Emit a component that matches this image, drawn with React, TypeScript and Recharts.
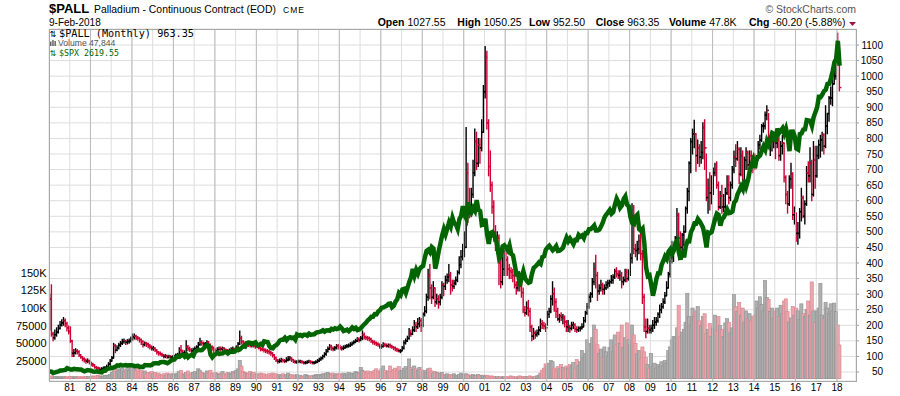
import React from 'react';
import {
  ComposedChart,
  Bar,
  Line,
  XAxis,
  YAxis,
  CartesianGrid,
  ReferenceLine,
} from 'recharts';

// Palladium continuous contract, monthly bars Jan 1980 .. Feb 2018 (one row per year)
const pallHigh = [
  300, 330, 178, 185, 192, 200, 212, 218, 225, 220, 210, 198,
  195, 152, 122, 125, 122, 118, 106, 100, 96, 92, 92, 88,
  82, 78, 74, 68, 66, 63, 64, 66, 68, 72, 80, 90,
  100, 142, 138, 134, 142, 148, 155, 156, 152, 154, 156, 162,
  172, 172, 168, 164, 160, 156, 150, 146, 145, 142, 138, 134,
  132, 128, 122, 116, 114, 110, 106, 106, 104, 104, 102, 102,
  104, 108, 110, 128, 135, 120, 118, 150, 135, 130, 125, 126,
  130, 134, 145, 158, 150, 146, 145, 150, 148, 140, 134, 130,
  124, 128, 130, 130, 130, 128, 124, 122, 124, 128, 130, 126,
  134, 145, 182, 165, 150, 146, 144, 144, 140, 140, 140, 138,
  140, 136, 130, 128, 126, 124, 122, 120, 116, 112, 106, 98,
  90, 92, 94, 92, 90, 96, 100, 100, 96, 90, 88, 86,
  88, 88, 86, 84, 84, 86, 88, 86, 84, 84, 86, 90,
  94, 98, 104, 112, 122, 130, 138, 136, 130, 132, 138, 138,
  136, 132, 134, 136, 138, 140, 144, 146, 150, 155, 160, 160,
  164, 182, 175, 166, 164, 162, 158, 152, 150, 146, 144, 140,
  138, 144, 142, 140, 140, 140, 136, 132, 130, 126, 124, 122,
  132, 150, 156, 165, 190, 185, 195, 215, 210, 222, 225, 222,
  240, 260, 300, 380, 395, 330, 340, 320, 300, 295, 300, 340,
  335, 358, 365, 395, 370, 345, 345, 355, 375, 420, 440, 460,
  500, 835, 720, 640, 640, 730, 830, 820, 800, 800, 860, 970,
  1095, 1080, 860, 760, 660, 600, 520, 500, 490, 420, 420, 440,
  440, 420, 395, 385, 380, 370, 340, 350, 345, 335, 320, 260,
  275, 280, 255, 200, 190, 182, 185, 195, 220, 215, 210, 205,
  245, 255, 295, 340, 320, 285, 255, 235, 240, 235, 230, 215,
  215, 200, 210, 210, 205, 195, 195, 195, 205, 225, 245, 270,
  300, 305, 350, 400, 425, 370, 330, 345, 335, 330, 340, 345,
  345, 360, 362, 380, 385, 375, 375, 370, 355, 380, 380, 378,
  430, 590, 585, 460, 470, 490, 500, 440, 300, 220, 220, 200,
  200, 215, 225, 225, 240, 265, 270, 285, 305, 340, 370, 420,
  470, 450, 485, 575, 560, 500, 495, 520, 580, 640, 725, 800,
  830, 858, 815, 795, 780, 790, 850, 860, 750, 670, 690, 680,
  705, 720, 725, 660, 630, 650, 620, 640, 680, 680, 660, 710,
  760, 780, 790, 770, 770, 760, 740, 770, 760, 760, 760, 745,
  750, 745, 790, 810, 845, 850, 885, 905, 880, 800, 810, 820,
  820, 830, 810, 790, 810, 785, 680, 630, 680, 720, 690, 580,
  560, 530, 575, 640, 615, 600, 710, 725, 770, 730, 790, 775,
  775, 795, 810, 820, 815, 905, 880, 935, 965, 1010, 1020, 1060,
  1138, 1090,
];

const pallLow = [
  185, 165, 150, 155, 165, 175, 188, 198, 200, 195, 182, 172,
  145, 100, 100, 108, 108, 100, 94, 86, 82, 78, 80, 76,
  70, 68, 62, 60, 58, 54, 55, 58, 60, 62, 65, 72,
  85, 95, 112, 118, 124, 132, 138, 142, 138, 140, 142, 146,
  152, 156, 154, 152, 146, 138, 130, 134, 132, 128, 124, 120,
  120, 116, 108, 104, 104, 100, 95, 96, 94, 95, 93, 94,
  95, 98, 100, 104, 108, 106, 106, 110, 118, 116, 112, 114,
  118, 122, 128, 136, 136, 134, 134, 138, 132, 125, 120, 112,
  110, 116, 120, 118, 120, 116, 114, 112, 114, 116, 120, 114,
  118, 126, 138, 140, 136, 134, 134, 132, 130, 130, 130, 126,
  128, 124, 118, 118, 114, 112, 110, 108, 104, 98, 90, 84,
  78, 80, 82, 82, 80, 82, 86, 88, 84, 80, 78, 78,
  80, 80, 78, 76, 76, 78, 80, 78, 76, 76, 78, 80,
  84, 88, 92, 98, 104, 114, 122, 120, 118, 120, 124, 124,
  122, 120, 122, 126, 128, 130, 132, 136, 140, 144, 148, 146,
  150, 154, 156, 154, 152, 150, 145, 140, 138, 135, 133, 126,
  126, 130, 132, 130, 130, 128, 126, 122, 118, 116, 114, 112,
  118, 124, 140, 148, 155, 165, 170, 180, 180, 190, 195, 180,
  195, 230, 240, 280, 285, 270, 285, 260, 268, 255, 265, 285,
  295, 315, 335, 340, 300, 310, 318, 330, 340, 365, 385, 410,
  420, 450, 530, 545, 550, 610, 680, 700, 710, 720, 760, 820,
  930, 830, 680, 630, 560, 470, 440, 430, 330, 320, 330, 360,
  360, 360, 350, 350, 340, 320, 300, 310, 310, 290, 240, 230,
  235, 230, 180, 150, 155, 158, 165, 170, 180, 190, 188, 180,
  200, 225, 240, 265, 245, 225, 215, 210, 215, 205, 195, 180,
  180, 178, 185, 190, 180, 178, 180, 182, 188, 195, 210, 235,
  255, 275, 290, 330, 320, 280, 300, 310, 300, 300, 315, 320,
  325, 335, 335, 350, 355, 350, 345, 320, 330, 340, 340, 345,
  360, 400, 430, 420, 410, 430, 410, 270, 180, 160, 175, 175,
  175, 180, 190, 200, 210, 225, 240, 255, 270, 295, 320, 355,
  400, 405, 440, 480, 410, 425, 440, 455, 500, 560, 600, 690,
  750, 770, 695, 720, 710, 720, 735, 700, 600, 560, 570, 590,
  620, 680, 640, 570, 575, 560, 565, 570, 620, 590, 600, 640,
  690, 710, 730, 655, 680, 640, 650, 700, 700, 695, 710, 690,
  700, 705, 730, 765, 790, 820, 830, 860, 775, 745, 760, 770,
  735, 770, 730, 730, 750, 660, 590, 560, 585, 640, 540, 525,
  470, 460, 480, 535, 545, 525, 585, 660, 660, 600, 615, 640,
  675, 735, 740, 760, 750, 770, 815, 855, 910, 905, 975, 990,
  1040, 952.5,
];

const pallClose = [
  285, 172, 160, 170, 178, 190, 200, 208, 215, 205, 192, 180,
  150, 110, 112, 118, 115, 105, 98, 92, 88, 85, 86, 80,
  75, 72, 65, 63, 62, 58, 60, 62, 64, 66, 75, 85,
  95, 135, 120, 128, 136, 142, 148, 150, 146, 148, 150, 156,
  163, 165, 160, 158, 154, 148, 138, 142, 140, 135, 131, 126,
  126, 120, 114, 110, 108, 104, 100, 102, 98, 100, 98, 98,
  100, 104, 106, 120, 118, 112, 112, 130, 125, 122, 118, 122,
  125, 130, 138, 145, 142, 140, 140, 145, 138, 130, 128, 122,
  118, 122, 125, 124, 126, 122, 120, 118, 118, 122, 125, 120,
  128, 140, 158, 148, 142, 140, 140, 138, 136, 136, 134, 132,
  134, 128, 124, 122, 120, 118, 116, 114, 110, 104, 96, 88,
  84, 86, 88, 86, 85, 88, 92, 94, 90, 84, 82, 82,
  84, 84, 82, 80, 80, 82, 84, 82, 80, 80, 82, 86,
  90, 95, 100, 108, 116, 124, 132, 126, 124, 128, 134, 130,
  128, 126, 128, 132, 134, 135, 138, 142, 146, 150, 156, 152,
  158, 170, 162, 160, 158, 156, 150, 146, 144, 140, 138, 132,
  132, 138, 136, 134, 136, 134, 130, 128, 124, 120, 118, 118,
  126, 144, 150, 158, 175, 172, 185, 200, 195, 205, 215, 200,
  235, 245, 290, 360, 320, 290, 320, 275, 285, 275, 290, 330,
  325, 345, 355, 360, 330, 325, 335, 345, 370, 395, 420, 440,
  450, 690, 580, 560, 620, 690, 790, 720, 780, 770, 820, 950,
  1060, 850, 710, 650, 580, 500, 470, 480, 400, 340, 380, 430,
  410, 380, 375, 370, 360, 330, 320, 335, 325, 305, 250, 240,
  255, 245, 195, 165, 175, 170, 175, 185, 205, 200, 198, 192,
  235, 245, 285, 300, 275, 245, 220, 230, 225, 225, 210, 195,
  195, 190, 200, 200, 188, 186, 190, 190, 195, 215, 240, 260,
  290, 300, 340, 380, 360, 310, 320, 330, 315, 320, 330, 335,
  340, 345, 355, 375, 365, 360, 360, 340, 345, 370, 350, 370,
  415, 550, 445, 440, 445, 470, 430, 290, 195, 180, 190, 185,
  190, 200, 210, 215, 235, 250, 260, 275, 295, 320, 365, 405,
  425, 440, 480, 555, 480, 450, 490, 500, 575, 630, 720, 790,
  815, 815, 745, 770, 740, 755, 835, 770, 610, 640, 625, 655,
  690, 700, 650, 580, 615, 580, 580, 625, 650, 610, 650, 700,
  740, 735, 765, 685, 745, 660, 730, 755, 715, 745, 725, 715,
  710, 740, 780, 795, 840, 840, 875, 890, 780, 790, 800, 800,
  785, 795, 745, 775, 785, 675, 620, 590, 670, 685, 555, 560,
  495, 495, 565, 610, 550, 590, 690, 680, 720, 620, 730, 680,
  745, 780, 795, 810, 775, 840, 880, 930, 930, 975, 1000, 1055,
  1045, 963.35,
];

// monthly volume, thousands of contracts
const pallVolume = [
  3, 4, 2, 3, 3, 2, 3, 2, 3, 2, 3, 2,
  3, 3, 2, 3, 2, 3, 2, 3, 2, 3, 3, 2,
  3, 4, 3, 4, 5, 4, 3, 4, 5, 4, 5, 6,
  9, 17, 13, 10, 14, 12, 15, 10, 13, 16, 12, 18,
  17, 14, 12, 15, 10, 12, 9, 11, 7, 9, 8, 10,
  7, 9, 6, 8, 5, 6, 7, 5, 8, 6, 7, 6,
  7, 6, 8, 10, 12, 7, 6, 9, 11, 6, 8, 9,
  10, 8, 14, 12, 9, 7, 8, 11, 9, 12, 7, 8,
  9, 7, 6, 8, 10, 7, 6, 9, 8, 7, 10, 9,
  12, 14, 26, 18, 10, 9, 8, 7, 10, 8, 9, 6,
  7, 5, 8, 6, 7, 5, 6, 7, 5, 8, 6, 7,
  5, 6, 4, 7, 5, 6, 8, 5, 6, 4, 5, 6,
  4, 5, 3, 4, 6, 5, 4, 3, 5, 4, 6, 5,
  6, 5, 7, 6, 8, 9, 7, 6, 8, 5, 7, 6,
  7, 6, 8, 5, 7, 9, 6, 8, 7, 10, 9, 8,
  16, 12, 10, 9, 11, 8, 10, 9, 12, 14, 11, 10,
  14, 18, 12, 9, 11, 18, 10, 13, 15, 12, 17, 11,
  12, 15, 17, 14, 28, 16, 13, 18, 14, 12, 16, 13,
  10, 12, 9, 14, 15, 11, 8, 10, 9, 8, 7, 9,
  6, 5, 7, 4, 6, 5, 7, 5, 4, 6, 8, 6,
  5, 7, 6, 5, 4, 6, 5, 4, 6, 5, 4, 5,
  3, 5, 4, 3, 4, 3, 2, 3, 2, 3, 2, 3,
  2, 3, 2, 4, 3, 2, 3, 2, 4, 3, 2, 3,
  3, 2, 4, 3, 2, 3, 4, 5, 8, 12, 15, 21,
  18, 22, 26, 24, 15, 12, 17, 14, 20, 16, 13, 18,
  15, 20, 18, 23, 14, 27, 19, 24, 40, 30, 36, 55,
  40, 50, 58, 76, 70, 48, 36, 42, 30, 45, 38, 32,
  44, 55, 38, 62, 48, 66, 50, 76, 44, 58, 79, 55,
  48, 76, 62, 50, 35, 40, 28, 45, 38, 30, 20, 15,
  36, 18, 22, 15, 20, 17, 24, 18, 26, 22, 40, 45,
  55, 60, 58, 72, 104, 60, 66, 70, 80, 121, 88, 76,
  100, 88, 96, 102, 82, 75, 88, 92, 64, 70, 78, 60,
  72, 90, 68, 88, 75, 70, 60, 79, 85, 80, 65, 72,
  119, 102, 95, 108, 90, 100, 80, 96, 85, 92, 82, 88,
  90, 110, 100, 116, 105, 96, 139, 115, 112, 95, 100, 86,
  96, 100, 88, 104, 92, 110, 113, 95, 80, 86, 102, 90,
  100, 96, 84, 106, 92, 88, 98, 110, 90, 137, 96, 80,
  96, 100, 135, 90, 85, 108, 100, 92, 106, 96, 107, 95,
  76, 47.8,
];

// S&P 500 monthly close, overlay
const spxClose = [
  114, 113, 102, 106, 111, 114, 122, 122, 125, 127, 141, 136,
  130, 131, 136, 133, 133, 131, 131, 122, 116, 122, 126, 123,
  120, 113, 112, 116, 112, 110, 107, 120, 120, 134, 139, 141,
  145, 148, 153, 164, 162, 168, 163, 164, 166, 164, 166, 165,
  163, 157, 159, 160, 151, 153, 151, 167, 166, 166, 164, 167,
  180, 181, 181, 180, 190, 192, 191, 188, 182, 190, 202, 211,
  212, 227, 239, 235, 247, 251, 236, 253, 231, 244, 249, 242,
  274, 284, 292, 288, 290, 304, 319, 330, 322, 252, 230, 247,
  257, 268, 259, 261, 262, 274, 272, 262, 272, 279, 274, 278,
  297, 289, 295, 310, 321, 318, 346, 351, 349, 340, 346, 353,
  329, 332, 340, 331, 361, 358, 356, 323, 306, 304, 322, 330,
  344, 367, 375, 375, 390, 371, 388, 395, 388, 392, 375, 417,
  409, 413, 404, 415, 415, 408, 424, 414, 418, 419, 431, 436,
  439, 443, 452, 440, 450, 451, 448, 464, 459, 468, 462, 466,
  482, 467, 446, 451, 457, 444, 458, 475, 463, 472, 454, 459,
  470, 487, 501, 515, 533, 545, 562, 562, 584, 582, 605, 616,
  636, 640, 646, 654, 669, 671, 640, 652, 687, 705, 757, 741,
  786, 791, 757, 801, 848, 885, 954, 899, 947, 915, 955, 970,
  980, 1049, 1102, 1112, 1091, 1134, 1121, 957, 1017, 1099, 1164, 1229,
  1280, 1238, 1286, 1335, 1302, 1373, 1329, 1320, 1283, 1363, 1389, 1469,
  1394, 1366, 1499, 1452, 1421, 1455, 1431, 1518, 1437, 1429, 1315, 1320,
  1366, 1240, 1160, 1249, 1256, 1224, 1211, 1134, 1041, 1060, 1139, 1148,
  1130, 1107, 1147, 1077, 1067, 990, 912, 916, 815, 886, 936, 880,
  856, 841, 848, 917, 964, 975, 990, 1008, 996, 1051, 1058, 1112,
  1131, 1145, 1126, 1107, 1121, 1141, 1102, 1104, 1115, 1130, 1174, 1212,
  1181, 1204, 1181, 1157, 1192, 1191, 1234, 1220, 1229, 1207, 1249, 1248,
  1280, 1281, 1295, 1311, 1270, 1270, 1277, 1304, 1336, 1378, 1401, 1418,
  1438, 1407, 1421, 1482, 1531, 1503, 1455, 1474, 1527, 1549, 1481, 1468,
  1379, 1331, 1323, 1386, 1400, 1280, 1267, 1283, 1165, 969, 896, 903,
  826, 735, 798, 873, 919, 919, 987, 1021, 1057, 1036, 1096, 1115,
  1074, 1104, 1169, 1187, 1089, 1031, 1102, 1049, 1141, 1183, 1181, 1258,
  1286, 1327, 1326, 1364, 1345, 1321, 1292, 1219, 1131, 1253, 1247, 1258,
  1312, 1366, 1408, 1398, 1310, 1362, 1379, 1407, 1441, 1412, 1416, 1426,
  1498, 1515, 1569, 1598, 1631, 1606, 1686, 1633, 1682, 1757, 1806, 1848,
  1783, 1859, 1872, 1884, 1924, 1960, 1931, 2003, 1972, 2018, 2068, 2059,
  1995, 2105, 2068, 2086, 2107, 2063, 2104, 2040, 1920, 2079, 2080, 2044,
  1940, 1932, 2060, 2065, 2097, 2099, 2174, 2171, 2168, 2126, 2199, 2239,
  2279, 2364, 2363, 2384, 2412, 2423, 2470, 2472, 2519, 2575, 2648, 2674,
  2824, 2620,
];

const yearLabels = [
  '81', '82', '83', '84', '85', '86', '87', '88', '89', '90', '91', '92', '93',
  '94', '95', '96', '97', '98', '99', '00', '01', '02', '03', '04', '05', '06',
  '07', '08', '09', '10', '11', '12', '13', '14', '15', '16', '17', '18',
];
const priceTicks = [
  50, 100, 150, 200, 250, 300, 350, 400, 450, 500, 550,
  600, 650, 700, 750, 800, 850, 900, 950, 1000, 1050, 1100,
];
const volumeTicks = [25000, 50000, 75000, 100000, 125000, 150000];
const volumeTickLabels = ['25000', '50000', '75000', '100K', '125K', '150K'];

// January of each labelled year, in months from Jan 1980
const yearTicks = yearLabels.map((_, i) => (i + 1) * 12);
const evenYearTicks = yearTicks.filter((_, i) => i % 2 === 1);

const rows = pallClose.map((close, i) => ({
  t: i + 0.5,
  range: [pallLow[i], pallHigh[i]],
  h: pallHigh[i],
  l: pallLow[i],
  c: close,
  // monthly open taken as the prior month's close
  o: i === 0 ? close : pallClose[i - 1],
  up: i === 0 || close >= pallClose[i - 1],
  vol: pallVolume[i] * 1000,
  spx: spxClose[i],
}));

const SANS = '"Liberation Sans", Arial, sans-serif';
const MONO = '"DejaVu Sans Mono", monospace';
const RED = '#cc0033';
const SPX_GREEN = '#006400';

function OhlcBar(props: any) {
  const { x, y, width, height, payload } = props;
  if (!payload || x == null) return null;
  const top = Math.min(y, y + height);
  const bot = Math.max(y, y + height);
  const cx = x + width / 2;
  const span = payload.h - payload.l || 1;
  const yOf = (v: number) => top + ((payload.h - v) / span) * (bot - top);
  const color = payload.up ? '#000000' : RED;
  return (
    <g stroke={color} strokeWidth={1.4}>
      <line x1={cx} x2={cx} y1={top - 0.5} y2={bot + 0.5} />
      <line x1={cx - 2} x2={cx} y1={yOf(payload.o)} y2={yOf(payload.o)} />
      <line x1={cx} x2={cx + 2} y1={yOf(payload.c)} y2={yOf(payload.c)} />
    </g>
  );
}

function VolumeBar(props: any) {
  const { x, y, width, height, payload } = props;
  if (!payload || x == null) return null;
  const cx = x + width / 2;
  return (
    <rect
      x={cx - 1.6}
      y={y}
      width={3.2}
      height={Math.max(height, 0)}
      fill={payload.up ? '#b0b0b0' : '#eaa6ac'}
      stroke={payload.up ? '#8e8e8e' : '#d8838d'}
      strokeWidth={0.6}
    />
  );
}

const renderYearTick = (props: any) => {
  const { x, payload } = props;
  const label = yearLabels[Math.round(payload.value / 12) - 1];
  return (
    <text x={x} y={391} textAnchor="middle" fontSize={10} fontFamily={SANS} fill="#000">
      {label}
    </text>
  );
};

const renderPriceTick = (props: any) => {
  const { y, payload } = props;
  return (
    <text x={883} y={y} dy={3.5} textAnchor="end" fontSize={10} fontFamily={SANS} fill="#000">
      {payload.value}
    </text>
  );
};

const renderVolumeTick = (props: any) => {
  const { y, payload } = props;
  const label = volumeTickLabels[volumeTicks.indexOf(payload.value)];
  return (
    <text x={46.5} y={y} dy={4} textAnchor="end" fontSize={11} fontFamily={SANS} fill="#000">
      {label}
    </text>
  );
};

function Header() {
  const stats = [
    { label: 'Open', value: '1027.55', x: 377.7 },
    { label: 'High', value: '1050.25', x: 457.3 },
    { label: 'Low', value: '952.50', x: 529 },
    { label: 'Close', value: '963.35', x: 595.7 },
    { label: 'Volume', value: '47.8K', x: 669 },
    { label: 'Chg', value: '-60.20 (-5.88%)', x: 749 },
  ];
  return (
    <svg width={900} height={396} style={{ position: 'absolute', left: 0, top: 0, pointerEvents: 'none' }}>
      <text x={49} y={13} fontFamily={SANS} fontSize={13} fontWeight="bold">$PALL</text>
      <text x={94} y={13} fontFamily={SANS} fontSize={10.4}>Palladium - Continuous Contract (EOD)</text>
      <text x={283} y={12.5} fontFamily={SANS} fontSize={8.5} letterSpacing={1}>CME</text>
      <text x={49} y={26} fontFamily={SANS} fontSize={10}>9-Feb-2018</text>
      <text x={856} y={13} textAnchor="end" fontFamily={SANS} fontSize={10.5} fill="#555">
        © StockCharts.com
      </text>
      {stats.map((s) => (
        <text key={s.label} x={s.x} y={26} fontFamily={SANS} fontSize={10.5}>
          <tspan fontWeight="bold">{s.label}</tspan>
          <tspan dx={3}>{s.value}</tspan>
        </text>
      ))}
      <polygon points="849,22 856,22 852.5,26" fill="#a0103c" />

      {/* legend */}
      <text x={49.5} y={37.3} fontFamily="DejaVu Sans" fontSize={8.5}>⇅</text>
      <text x={59} y={37.3} fontFamily={MONO} fontSize={10.2}>$PALL (Monthly) 963.35</text>
      <g fill="#666">
        <rect x={50} y={41.5} width={1.5} height={4.5} />
        <rect x={52.2} y={40} width={1.5} height={6} />
        <rect x={54.4} y={41} width={1.5} height={5} />
      </g>
      <text x={58} y={45.8} fontFamily={SANS} fontSize={8.6} fill="#555">Volume 47,844</text>
      <text x={49.5} y={55.6} fontFamily="DejaVu Sans" fontSize={8} fill={SPX_GREEN}>⇅</text>
      <text x={59} y={55.6} fontFamily={MONO} fontSize={8.3} fill={SPX_GREEN}>$SPX 2619.55</text>
    </svg>
  );
}

export default function App() {
  return (
    <div style={{ position: 'absolute', left: 0, top: 0, width: 900, height: 396, background: '#fff', fontFamily: SANS }}>
      <ComposedChart width={900} height={396} data={rows} margin={{ top: 29, right: 4, bottom: 0, left: 4 }}>
        <CartesianGrid xAxisId="x" yAxisId="price" stroke="#dddddd" />
        {evenYearTicks.map((t) => (
          <ReferenceLine key={t} xAxisId="x" yAxisId="price" x={t} stroke="#bcbcbc" />
        ))}
        <XAxis
          xAxisId="x"
          type="number"
          dataKey="t"
          domain={[0, 467]}
          ticks={yearTicks}
          interval={0}
          height={15}
          axisLine={false}
          tickLine={false}
          tick={renderYearTick}
          allowDataOverflow
        />
        <XAxis xAxisId="xv" type="number" dataKey="t" domain={[0, 467]} hide allowDataOverflow />
        <YAxis
          yAxisId="vol"
          orientation="left"
          width={45}
          domain={[-3260, 495000]}
          ticks={volumeTicks}
          interval={0}
          axisLine={false}
          tickSize={3}
          tickLine={{ stroke: '#888' }}
          tick={renderVolumeTick}
          allowDataOverflow
        />
        <YAxis
          yAxisId="price"
          orientation="right"
          width={40}
          domain={[21.1, 1151.4]}
          ticks={priceTicks}
          interval={0}
          axisLine={false}
          tickSize={3}
          tickLine={{ stroke: '#999' }}
          tick={renderPriceTick}
          allowDataOverflow
        />
        <YAxis yAxisId="spx" hide domain={[36, 2921]} allowDataOverflow />
        <Bar xAxisId="xv" yAxisId="vol" dataKey="vol" shape={VolumeBar} isAnimationActive={false} />
        <Line
          xAxisId="x"
          yAxisId="spx"
          dataKey="spx"
          type="linear"
          stroke={SPX_GREEN}
          strokeWidth={4.5}
          dot={false}
          activeDot={false}
          isAnimationActive={false}
        />
        <Bar xAxisId="x" yAxisId="price" dataKey="range" shape={OhlcBar} isAnimationActive={false} />
      </ComposedChart>
      <div
        style={{
          position: 'absolute',
          left: 49,
          top: 29,
          width: 808,
          height: 353,
          border: '1px solid #a8a8a8',
          boxSizing: 'border-box',
          pointerEvents: 'none',
        }}
      />
      <Header />
    </div>
  );
}
